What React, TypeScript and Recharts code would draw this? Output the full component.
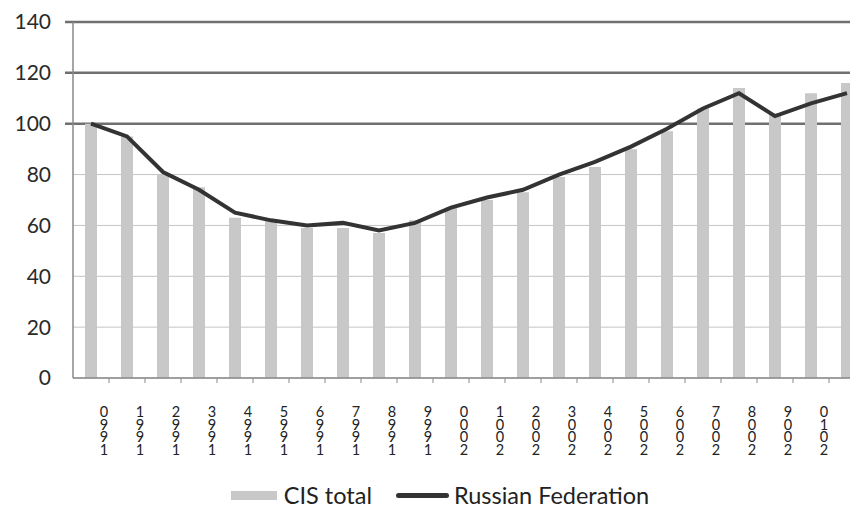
import { Bar, CartesianGrid, ComposedChart, Legend, Line, XAxis, YAxis } from "recharts";

const YEARS = [
  "1990", "1991", "1992", "1993", "1994", "1995", "1996", "1997", "1998", "1999", "2000",
  "2001", "2002", "2003", "2004", "2005", "2006", "2007", "2008", "2009", "2010", "2011",
];
const CIS_TOTAL = [100, 95, 80, 75, 63, 62, 59, 59, 57, 62, 67, 70, 73, 79, 83, 90, 97, 106, 114, 104, 112, 116];
const RUSSIA = [100, 95, 81, 74, 65, 62, 60, 61, 58, 61, 67, 71, 74, 80, 85, 91, 98, 106, 112, 103, 108, 112];
const Y_TICKS = [0, 20, 40, 60, 80, 100, 120, 140];

const BAR_COLOR = "#c8c8c8";
const LINE_COLOR = "#333333";
const FONT = "Lato, 'Open Sans', sans-serif";

// layout
const W = 880;
const H = 515;
const TOP = 22;
const LEFT = 73;
const RIGHT = 15;
const PLOT_BOTTOM = 378;
const BAND = (W - LEFT - RIGHT) / YEARS.length;
const HEAVY_Y = TOP + (PLOT_BOTTOM - TOP) * (1 - 100 / 140) + 0.5;

const data = YEARS.map((year, i) => ({ year, cis: CIS_TOTAL[i], russia: RUSSIA[i] }));

function GridLine(props: any) {
  const { x1, x2, y1 } = props;
  if (y1 <= HEAVY_Y) {
    return <line x1={x1 - 8} x2={x2} y1={y1} y2={y1} stroke="#707070" strokeWidth={2.5} />;
  }
  return <line x1={x1} x2={x2} y1={y1} y2={y1} stroke="#c4c4c4" strokeWidth={1} />;
}

// years are printed as stacked digits, last digit on top
function YearTick({ x, y, payload }: any) {
  const chars = String(payload.value).split("").reverse();
  const tx = x + 13;
  return (
    <g>
      <line x1={x + BAND / 2} x2={x + BAND / 2} y1={y} y2={y + 5} stroke="#888" />
      <text x={tx} y={y + 39} textAnchor="middle" fontSize={14.5} fill="#222" fontFamily={FONT}>
        {chars.map((c, i) => (
          <tspan key={i} x={tx} dy={i === 0 ? 0 : 12.6}>
            {c}
          </tspan>
        ))}
      </text>
    </g>
  );
}

function LegendContent() {
  return (
    <div
      style={{
        display: "flex",
        justifyContent: "center",
        alignItems: "center",
        height: 40,
        fontFamily: FONT,
        fontSize: 23.5,
        color: "#222",
      }}
    >
      <span style={{ display: "flex", alignItems: "center", marginRight: 24 }}>
        <span style={{ width: 46, height: 9, background: BAR_COLOR, marginRight: 7 }} />
        CIS total
      </span>
      <span style={{ display: "flex", alignItems: "center" }}>
        <span style={{ width: 53, height: 5, borderRadius: 3, background: LINE_COLOR, marginRight: 5 }} />
        Russian Federation
      </span>
    </div>
  );
}

export default function App() {
  return (
    <div style={{ margin: -8, width: 858, height: 515, overflow: "hidden", background: "#fff" }}>
      <ComposedChart
        width={W}
        height={H}
        data={data}
        margin={{ top: TOP, right: RIGHT, bottom: 0, left: 0 }}
      >
        <CartesianGrid vertical={false} horizontal={GridLine} />
        <XAxis
          dataKey="year"
          interval={0}
          height={97}
          tickSize={0}
          tickMargin={0}
          tickLine={false}
          axisLine={{ stroke: "#888", strokeWidth: 1.5 }}
          tick={<YearTick />}
        />
        <YAxis
          domain={[0, 140]}
          ticks={Y_TICKS}
          width={LEFT}
          tickSize={0}
          tickMargin={22}
          tickLine={false}
          axisLine={{ stroke: "#888", strokeWidth: 1.5 }}
          tick={{ fill: "#2a2a2a", fontSize: 21, fontFamily: FONT }}
        />
        <Legend verticalAlign="bottom" content={<LegendContent />} wrapperStyle={{ left: 0, width: W }} />
        <Bar dataKey="cis" name="CIS total" fill={BAR_COLOR} barSize={12} isAnimationActive={false} />
        <Line
          dataKey="russia"
          name="Russian Federation"
          type="linear"
          stroke={LINE_COLOR}
          strokeWidth={4}
          dot={false}
          isAnimationActive={false}
        />
      </ComposedChart>
    </div>
  );
}
